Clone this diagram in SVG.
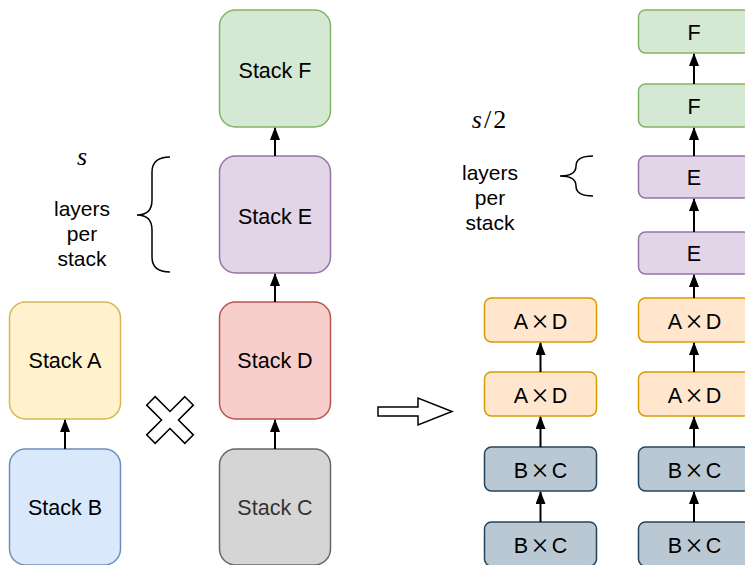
<svg xmlns="http://www.w3.org/2000/svg" width="745" height="565" viewBox="0 0 745 565">
<style>
text{font-family:"Liberation Sans",Arial,sans-serif;fill:#000;text-anchor:middle}
.big{font-size:21.5px}
.sm{font-size:21.5px}
.x{font-family:"Liberation Serif","Times New Roman",serif;font-size:31px}
.lbl{font-size:21px}
.math{font-family:"Liberation Serif","Times New Roman",serif;font-size:26px}
.green{fill:#d5e8d4;stroke:#82b366;stroke-width:1.5}
.purple{fill:#e1d5e7;stroke:#9673a6;stroke-width:1.5}
.red{fill:#f8cecc;stroke:#b85450;stroke-width:1.5}
.yellow{fill:#fff2cc;stroke:#d6b656;stroke-width:1.5}
.blue{fill:#dae8fc;stroke:#6c8ebf;stroke-width:1.5}
.gray{fill:#d5d5d5;stroke:#666666;stroke-width:1.5}
.orange{fill:#ffe6cc;stroke:#d79b00;stroke-width:1.5}
.slate{fill:#bac8d3;stroke:#23445d;stroke-width:1.5}
.conn line{stroke:#000;stroke-width:2;marker-end:url(#ah)}
.shape{fill:#fff;stroke:#000;stroke-width:1.5;stroke-linejoin:miter}
.brace{fill:none;stroke:#000;stroke-width:1.5}
</style>
<defs>
<marker id="ah" markerUnits="userSpaceOnUse" markerWidth="14" markerHeight="12" refX="12" refY="5" orient="auto">
<path d="M0,0 L13,5 L0,10 z" fill="#000"/>
</marker>
</defs>

<g id="stackA"><rect class="yellow" x="9.5" y="302" width="111" height="117" rx="16"/><text class="big" x="65" y="367.5">Stack A</text></g>
<g id="stackB"><rect class="blue" x="9.5" y="449" width="111" height="116" rx="16"/><text class="big" x="65" y="514.5">Stack B</text></g>
<g id="stackF"><rect class="green" x="219.5" y="10" width="111" height="117" rx="16"/><text class="big" x="275" y="77.5">Stack F</text></g>
<g id="stackE"><rect class="purple" x="219.5" y="156" width="111" height="117" rx="16"/><text class="big" x="275" y="223.5">Stack E</text></g>
<g id="stackD"><rect class="red" x="219.5" y="302" width="111" height="117" rx="16"/><text class="big" x="275" y="367.5">Stack D</text></g>
<g id="stackC"><rect class="gray" x="219.5" y="449" width="111" height="116" rx="16"/><text class="big" x="275" y="514.5" style="fill:#333333">Stack C</text></g>

<g id="c1r1"><rect class="orange" x="484.5" y="298" width="112" height="44" rx="7"/><text class="sm" x="540.5" y="328.5">A<tspan class="x" dx="3" dy="3">×</tspan><tspan dx="3" dy="-3">D</tspan></text></g>
<g id="c1r2"><rect class="orange" x="484.5" y="372" width="112" height="44" rx="7"/><text class="sm" x="540.5" y="402.5">A<tspan class="x" dx="3" dy="3">×</tspan><tspan dx="3" dy="-3">D</tspan></text></g>
<g id="c1r3"><rect class="slate" x="484.5" y="447" width="112" height="44" rx="7"/><text class="sm" x="540.5" y="477.5">B<tspan class="x" dx="3" dy="3">×</tspan><tspan dx="3" dy="-3">C</tspan></text></g>
<g id="c1r4"><rect class="slate" x="484.5" y="522" width="112" height="44" rx="7"/><text class="sm" x="540.5" y="552.5">B<tspan class="x" dx="3" dy="3">×</tspan><tspan dx="3" dy="-3">C</tspan></text></g>

<g id="c2f1"><rect class="green" x="638.5" y="10" width="112" height="43" rx="7"/><text class="sm" x="694" y="39.5">F</text></g>
<g id="c2f2"><rect class="green" x="638.5" y="84" width="112" height="43" rx="7"/><text class="sm" x="694" y="113.5">F</text></g>
<g id="c2e1"><rect class="purple" x="638.5" y="156" width="112" height="42" rx="7"/><text class="sm" x="694" y="185">E</text></g>
<g id="c2e2"><rect class="purple" x="638.5" y="232" width="112" height="42" rx="7"/><text class="sm" x="694" y="261">E</text></g>
<g id="c2r1"><rect class="orange" x="638.5" y="298" width="112" height="44" rx="7"/><text class="sm" x="694.5" y="328.5">A<tspan class="x" dx="3" dy="3">×</tspan><tspan dx="3" dy="-3">D</tspan></text></g>
<g id="c2r2"><rect class="orange" x="638.5" y="372" width="112" height="44" rx="7"/><text class="sm" x="694.5" y="402.5">A<tspan class="x" dx="3" dy="3">×</tspan><tspan dx="3" dy="-3">D</tspan></text></g>
<g id="c2r3"><rect class="slate" x="638.5" y="447" width="112" height="44" rx="7"/><text class="sm" x="694.5" y="477.5">B<tspan class="x" dx="3" dy="3">×</tspan><tspan dx="3" dy="-3">C</tspan></text></g>
<g id="c2r4"><rect class="slate" x="638.5" y="522" width="112" height="44" rx="7"/><text class="sm" x="694.5" y="552.5">B<tspan class="x" dx="3" dy="3">×</tspan><tspan dx="3" dy="-3">C</tspan></text></g>

<g class="conn" id="connectors">
<line x1="65" y1="449" x2="65" y2="420"/>
<line x1="275" y1="449" x2="275" y2="420"/>
<line x1="275" y1="302" x2="275" y2="274"/>
<line x1="275" y1="156" x2="275" y2="128"/>
<line x1="540.5" y1="522" x2="540.5" y2="492"/>
<line x1="540.5" y1="447" x2="540.5" y2="417"/>
<line x1="540.5" y1="372" x2="540.5" y2="343"/>
<line x1="694" y1="522" x2="694" y2="492"/>
<line x1="694" y1="447" x2="694" y2="417"/>
<line x1="694" y1="372" x2="694" y2="343"/>
<line x1="694" y1="298" x2="694" y2="275"/>
<line x1="694" y1="232" x2="694" y2="199"/>
<line x1="694" y1="156" x2="694" y2="128"/>
<line x1="694" y1="84" x2="694" y2="54"/>
</g>

<g id="labelLeft">
<text class="math" x="82" y="165" font-style="italic">s</text>
<text class="lbl" x="82" y="216">layers</text>
<text class="lbl" x="82" y="241">per</text>
<text class="lbl" x="82" y="266">stack</text>
<path class="brace" d="M170,157 Q152,157 152,172 L152,200 Q152,215 137,215 Q152,215 152,230 L152,257 Q152,272 170,272"/>
</g>
<g id="labelRight">
<text class="math" x="490" y="128" letter-spacing="2"><tspan font-style="italic">s</tspan>/2</text>
<text class="lbl" x="490" y="180">layers</text>
<text class="lbl" x="490" y="205">per</text>
<text class="lbl" x="490" y="230">stack</text>
<path class="brace" d="M593,156 Q576,156 576,166 Q576,176 560,176 Q576,176 576,186 Q576,196 593,196"/>
</g>

<g id="cross"><polygon class="shape" transform="translate(170,420) rotate(45)" points="-6,-27 6,-27 6,-6 27,-6 27,6 6,6 6,27 -6,27 -6,6 -27,6 -27,-6 -6,-6"/></g>
<g id="bigArrow"><polygon class="shape" points="378,407 418,407 418,398 452,411.5 418,425 418,416 378,416"/></g>
</svg>
